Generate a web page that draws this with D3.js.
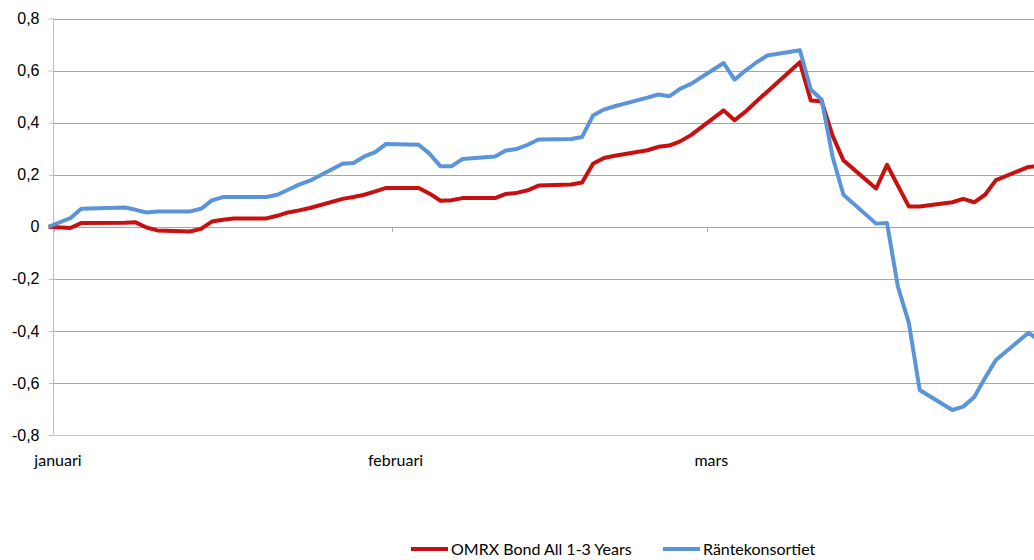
<!DOCTYPE html>
<html>
<head>
<meta charset="utf-8">
<script src="https://cdn.jsdelivr.net/npm/d3@7"></script>
<style>
  body { margin: 0; background: #fff; }
  svg { display: block; font-family: Lato, "Open Sans", sans-serif; }
</style>
</head>
<body>
<script>
var width = 1034,
  height = 560;

// trading days, 2019-12-31 is the base point
var dates = [
  "2019-12-31",
  "2020-01-02", "2020-01-03", "2020-01-07", "2020-01-08", "2020-01-09", "2020-01-10",
  "2020-01-13", "2020-01-14", "2020-01-15", "2020-01-16", "2020-01-17",
  "2020-01-20", "2020-01-21", "2020-01-22", "2020-01-23", "2020-01-24",
  "2020-01-27", "2020-01-28", "2020-01-29", "2020-01-30", "2020-01-31",
  "2020-02-03", "2020-02-04", "2020-02-05", "2020-02-06", "2020-02-07",
  "2020-02-10", "2020-02-11", "2020-02-12", "2020-02-13", "2020-02-14",
  "2020-02-17", "2020-02-18", "2020-02-19", "2020-02-20", "2020-02-21",
  "2020-02-24", "2020-02-25", "2020-02-26", "2020-02-27", "2020-02-28",
  "2020-03-02", "2020-03-03", "2020-03-04", "2020-03-05", "2020-03-06",
  "2020-03-09", "2020-03-10", "2020-03-11", "2020-03-12", "2020-03-13",
  "2020-03-16", "2020-03-17", "2020-03-18", "2020-03-19", "2020-03-20",
  "2020-03-23", "2020-03-24", "2020-03-25", "2020-03-26", "2020-03-27",
  "2020-03-30", "2020-03-31"
];

var omrx = [
  0,
  -0.005, 0.014, 0.015, 0.017, -0.003, -0.014,
  -0.018, -0.008, 0.020, 0.027, 0.032,
  0.032, 0.042, 0.055, 0.063, 0.072,
  0.107, 0.114, 0.123, 0.136, 0.149,
  0.149, 0.127, 0.100, 0.102, 0.110,
  0.110, 0.126, 0.130, 0.140, 0.158,
  0.162, 0.170, 0.242, 0.264, 0.273,
  0.294, 0.307, 0.312, 0.328, 0.352,
  0.447, 0.409, 0.442, 0.481, 0.519,
  0.632, 0.485, 0.482, 0.350, 0.255,
  0.147, 0.238, 0.158, 0.078, 0.078,
  0.094, 0.107, 0.094, 0.123, 0.179,
  0.230, 0.232
];

var rante = [
  0,
  0.033, 0.069, 0.074, 0.065, 0.055, 0.059,
  0.059, 0.069, 0.101, 0.114, 0.114,
  0.114, 0.123, 0.142, 0.162, 0.177,
  0.242, 0.245, 0.270, 0.287, 0.318,
  0.315, 0.280, 0.232, 0.232, 0.260,
  0.270, 0.293, 0.299, 0.315, 0.335,
  0.337, 0.345, 0.427, 0.450, 0.463,
  0.496, 0.508, 0.501, 0.530, 0.549,
  0.629, 0.565, 0.600, 0.631, 0.658,
  0.678, 0.527, 0.488, 0.269, 0.123,
  0.012, 0.014, -0.230, -0.368, -0.627,
  -0.704, -0.691, -0.655, -0.581, -0.512,
  -0.407, -0.438
];

var seriesNames = ["OMRX Bond All 1-3 Years", "Räntekonsortiet"];
var seriesColors = ["#c81010", "#5b94d8"];

var yTicks = [-0.8, -0.6, -0.4, -0.2, 0, 0.2, 0.4, 0.6, 0.8];
var monthTicks = ["2020-01-01", "2020-02-01", "2020-03-01"];
var monthLabels = ["januari", "februari", "mars"];

var parse = d3.utcParse("%Y-%m-%d");
var halfDay = 12 * 3600 * 1000;

var svg = d3.select("body").append("svg")
  .attr("width", width)
  .attr("height", height);

var x = d3.scaleUtc()
  .domain([parse("2020-01-01"), parse("2020-03-31")])
  .range([54, 1034]);

var y = d3.scaleLinear()
  .domain([-0.8, 0.8])
  .range([435, 18.5]);

function fmt(d) {
  return d === 0 ? "0" : d.toFixed(1).replace(".", ",");
}

// horizontal gridlines
svg.append("g")
  .selectAll("line")
  .data(yTicks)
  .enter()
  .append("line")
  .attr("x1", 54)
  .attr("x2", width)
  .attr("y1", function (d) { return Math.round(y(d)) + 0.5; })
  .attr("y2", function (d) { return Math.round(y(d)) + 0.5; })
  .attr("stroke", function (d) { return d === -0.8 ? "#c4c4c4" : "#a6a6a6"; })
  .attr("stroke-width", 1);

// y axis
var yAxis = svg.append("g")
  .attr("transform", "translate(53.5,0)")
  .call(d3.axisLeft(y).tickValues(yTicks).tickFormat(fmt).tickSize(5).tickPadding(9));

yAxis.select(".domain").attr("stroke", "#bfbfbf").attr("d", "M0," + y(0.8) + "V" + y(-0.8));
yAxis.selectAll(".tick line").attr("stroke", "#bfbfbf");
yAxis.selectAll(".tick text")
  .attr("fill", "#000")
  .style("font-size", "16px");

// x axis along zero line, labels at the bottom
var monthDates = monthTicks.map(parse);

svg.append("g")
  .selectAll("line")
  .data(monthDates)
  .enter()
  .append("line")
  .attr("x1", function (d) { return Math.round(x(d)) + 0.5; })
  .attr("x2", function (d) { return Math.round(x(d)) + 0.5; })
  .attr("y1", y(0))
  .attr("y2", y(0) + 5)
  .attr("stroke", "#a6a6a6");

svg.append("g")
  .selectAll("text")
  .data(monthDates)
  .enter()
  .append("text")
  .attr("x", function (d) { return x(d) + 4; })
  .attr("y", 466)
  .attr("text-anchor", "middle")
  .style("font-size", "16px")
  .text(function (d, i) { return monthLabels[i]; });

// lines
var line = d3.line()
  .x(function (d) { return x(new Date(d.date.getTime() + halfDay)); })
  .y(function (d) { return y(d.value); });

[omrx, rante].forEach(function (values, k) {
  var rows = dates.map(function (d, i) { return { date: parse(d), value: values[i] }; });
  svg.append("path")
    .datum(rows)
    .attr("fill", "none")
    .attr("stroke", seriesColors[k])
    .attr("stroke-width", 4)
    .attr("stroke-linejoin", "round")
    .attr("d", line);
});

// legend
var legendX = [411, 663];

var legend = svg.append("g")
  .selectAll("g")
  .data(seriesNames)
  .enter()
  .append("g")
  .attr("transform", function (d, i) { return "translate(" + legendX[i] + ",549)"; });

legend.append("line")
  .attr("x1", 0)
  .attr("x2", 37)
  .attr("stroke", function (d, i) { return seriesColors[i]; })
  .attr("stroke-width", 4);

legend.append("text")
  .attr("x", 40)
  .attr("dy", "0.35em")
  .style("font-size", "16px")
  .text(function (d) { return d; });
</script>
</body>
</html>
